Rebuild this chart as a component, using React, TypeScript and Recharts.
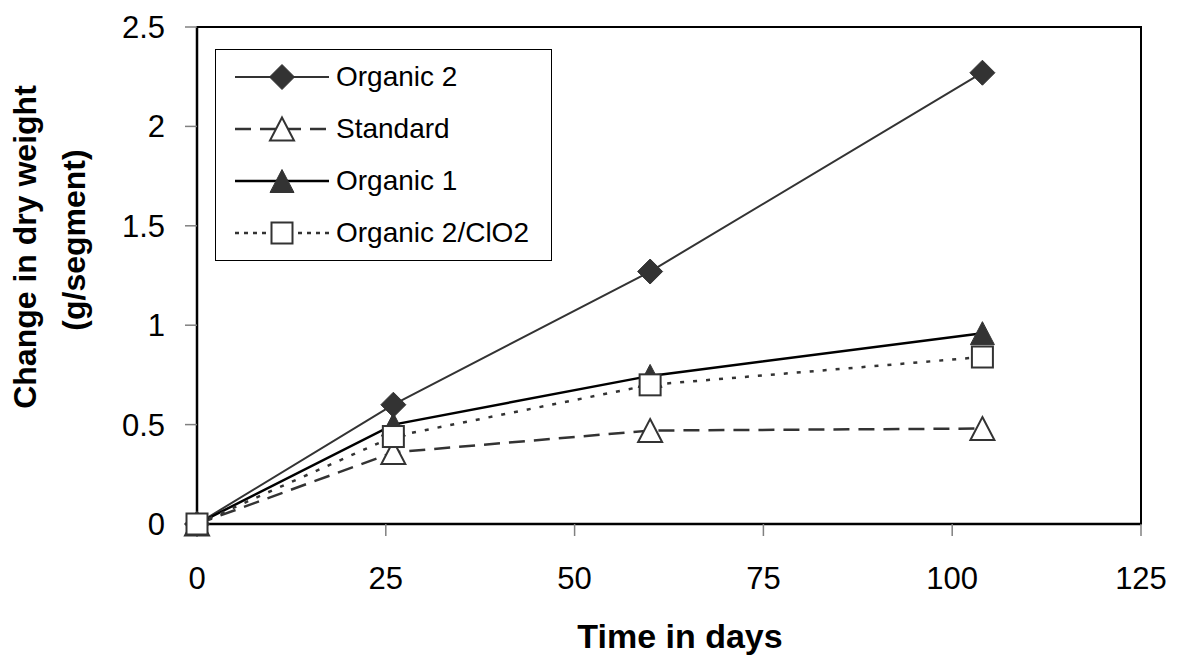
import React from "react";
import {
  LineChart,
  Line,
  XAxis,
  YAxis,
  Legend,
  ReferenceArea,
  Label,
} from "recharts";

// days after start
const days = [0, 26, 60, 104];

// change in dry weight (g/segment)
const organic2 = [0, 0.6, 1.27, 2.27];
const standard = [0, 0.36, 0.47, 0.48];
const organic1 = [0, 0.5, 0.745, 0.96];
const organic2ClO2 = [0, 0.44, 0.7, 0.84];

const xTicks = [0, 25, 50, 75, 100, 125];
const yTicks = [0, 0.5, 1, 1.5, 2, 2.5];

const data = days.map((d, i) => ({
  day: d,
  organic2: organic2[i],
  standard: standard[i],
  organic1: organic1[i],
  organic2ClO2: organic2ClO2[i],
}));

const FONT = "'Liberation Sans', Arial, sans-serif";
const DARK = "#333333";

type MarkerKind = "diamond" | "triangleFilled" | "triangleOpen" | "square";

function Marker({ kind, cx, cy }: { kind: MarkerKind; cx: number; cy: number }) {
  if (cx == null || cy == null) return null;
  if (kind === "diamond") {
    const r = 12.5;
    return (
      <path
        d={`M${cx},${cy - r}L${cx + r},${cy}L${cx},${cy + r}L${cx - r},${cy}Z`}
        fill={DARK}
        stroke={DARK}
        strokeWidth={1}
      />
    );
  }
  if (kind === "triangleFilled" || kind === "triangleOpen") {
    const w = 12;
    const h = 11.5;
    const filled = kind === "triangleFilled";
    return (
      <path
        d={`M${cx},${cy - h}L${cx + w},${cy + h}L${cx - w},${cy + h}Z`}
        fill={filled ? DARK : "#fff"}
        stroke={DARK}
        strokeWidth={filled ? 1 : 2}
      />
    );
  }
  const s = 10.5;
  return (
    <rect
      x={cx - s}
      y={cy - s}
      width={s * 2}
      height={s * 2}
      fill="#fff"
      stroke={DARK}
      strokeWidth={2}
    />
  );
}

const series = [
  { key: "organic2", name: "Organic 2", color: DARK, width: 2, dash: undefined, legendDash: undefined, marker: "diamond" as MarkerKind },
  { key: "standard", name: "Standard", color: DARK, width: 2.5, dash: "16 9", legendDash: "16 9", marker: "triangleOpen" as MarkerKind },
  { key: "organic1", name: "Organic 1", color: "#000", width: 2.5, dash: undefined, legendDash: undefined, marker: "triangleFilled" as MarkerKind },
  { key: "organic2ClO2", name: "Organic 2/ClO2", color: DARK, width: 2.5, dash: "4 9", legendDash: "4 5", marker: "square" as MarkerKind },
];

function LegendBox() {
  return (
    <div
      style={{
        border: "1px solid #000",
        background: "#fff",
        padding: "1px 22px 1px 19px",
        fontFamily: FONT,
        fontSize: 28,
        color: "#000",
      }}
    >
      {series.map((s) => (
        <div key={s.key} style={{ display: "flex", alignItems: "center", height: 52 }}>
          <svg width={94} height={30} style={{ display: "block" }}>
            <line
              x1={0}
              x2={94}
              y1={15}
              y2={15}
              stroke={s.color}
              strokeWidth={s.width}
              strokeDasharray={s.legendDash}
            />
            <Marker kind={s.marker} cx={47} cy={15} />
          </svg>
          <span style={{ marginLeft: 7, whiteSpace: "nowrap" }}>{s.name}</span>
        </div>
      ))}
    </div>
  );
}

export default function App() {
  return (
    <div style={{ position: "absolute", left: 0, top: 0, background: "#fff" }}>
      <LineChart
        width={1185}
        height={655}
        data={data}
        margin={{ top: 27, right: 44, bottom: 0, left: 0 }}
        style={{ fontFamily: FONT }}
      >
        <ReferenceArea
          x1={0}
          x2={125}
          y1={0}
          y2={2.5}
          fill="none"
          stroke="#000"
          strokeWidth={2}
        />
        <XAxis
          dataKey="day"
          type="number"
          domain={[0, 125]}
          ticks={xTicks}
          height={131}
          tickSize={12}
          tickMargin={31}
          tick={{ fill: "#000", fontSize: 31, fontFamily: FONT }}
          tickLine={{ stroke: "#808080", strokeWidth: 1.5 }}
          axisLine={{ stroke: "#000", strokeWidth: 2.5 }}
        >
          <Label
            content={({ viewBox }: any) => (
              <text
                x={viewBox.x + viewBox.width / 2 + 11}
                y={viewBox.y + 124}
                textAnchor="middle"
                fontFamily={FONT}
                fontWeight="bold"
                fontSize={34}
                fill="#000"
              >
                Time in days
              </text>
            )}
          />
        </XAxis>
        <YAxis
          type="number"
          domain={[0, 2.5]}
          ticks={yTicks}
          width={197}
          tickSize={12}
          tickMargin={20}
          tick={{ fill: "#000", fontSize: 31, fontFamily: FONT }}
          tickLine={{ stroke: "#808080", strokeWidth: 1.5 }}
          axisLine={{ stroke: "#000", strokeWidth: 2.5 }}
        >
          <Label
            content={() => (
              <g fontFamily={FONT} fontWeight="bold" fontSize={32} fill="#000">
                <text x={36} y={247} textAnchor="middle" transform="rotate(-90, 36, 247)">
                  Change in dry weight
                </text>
                <text x={85} y={240} textAnchor="middle" transform="rotate(-90, 85, 240)">
                  (g/segment)
                </text>
              </g>
            )}
          />
        </YAxis>
        <Legend
          layout="vertical"
          align="center"
          verticalAlign="middle"
          content={() => <LegendBox />}
          wrapperStyle={{ left: 215, top: 49, width: "auto" }}
        />
        {series.map((s) => (
          <Line
            key={s.key}
            dataKey={s.key}
            name={s.name}
            type="linear"
            stroke={s.color}
            strokeWidth={s.width}
            strokeDasharray={s.dash}
            isAnimationActive={false}
            activeDot={false}
            dot={(p: any) => (
              <Marker key={`${s.key}-${p.index}`} kind={s.marker} cx={p.cx} cy={p.cy} />
            )}
          />
        ))}
      </LineChart>
    </div>
  );
}
